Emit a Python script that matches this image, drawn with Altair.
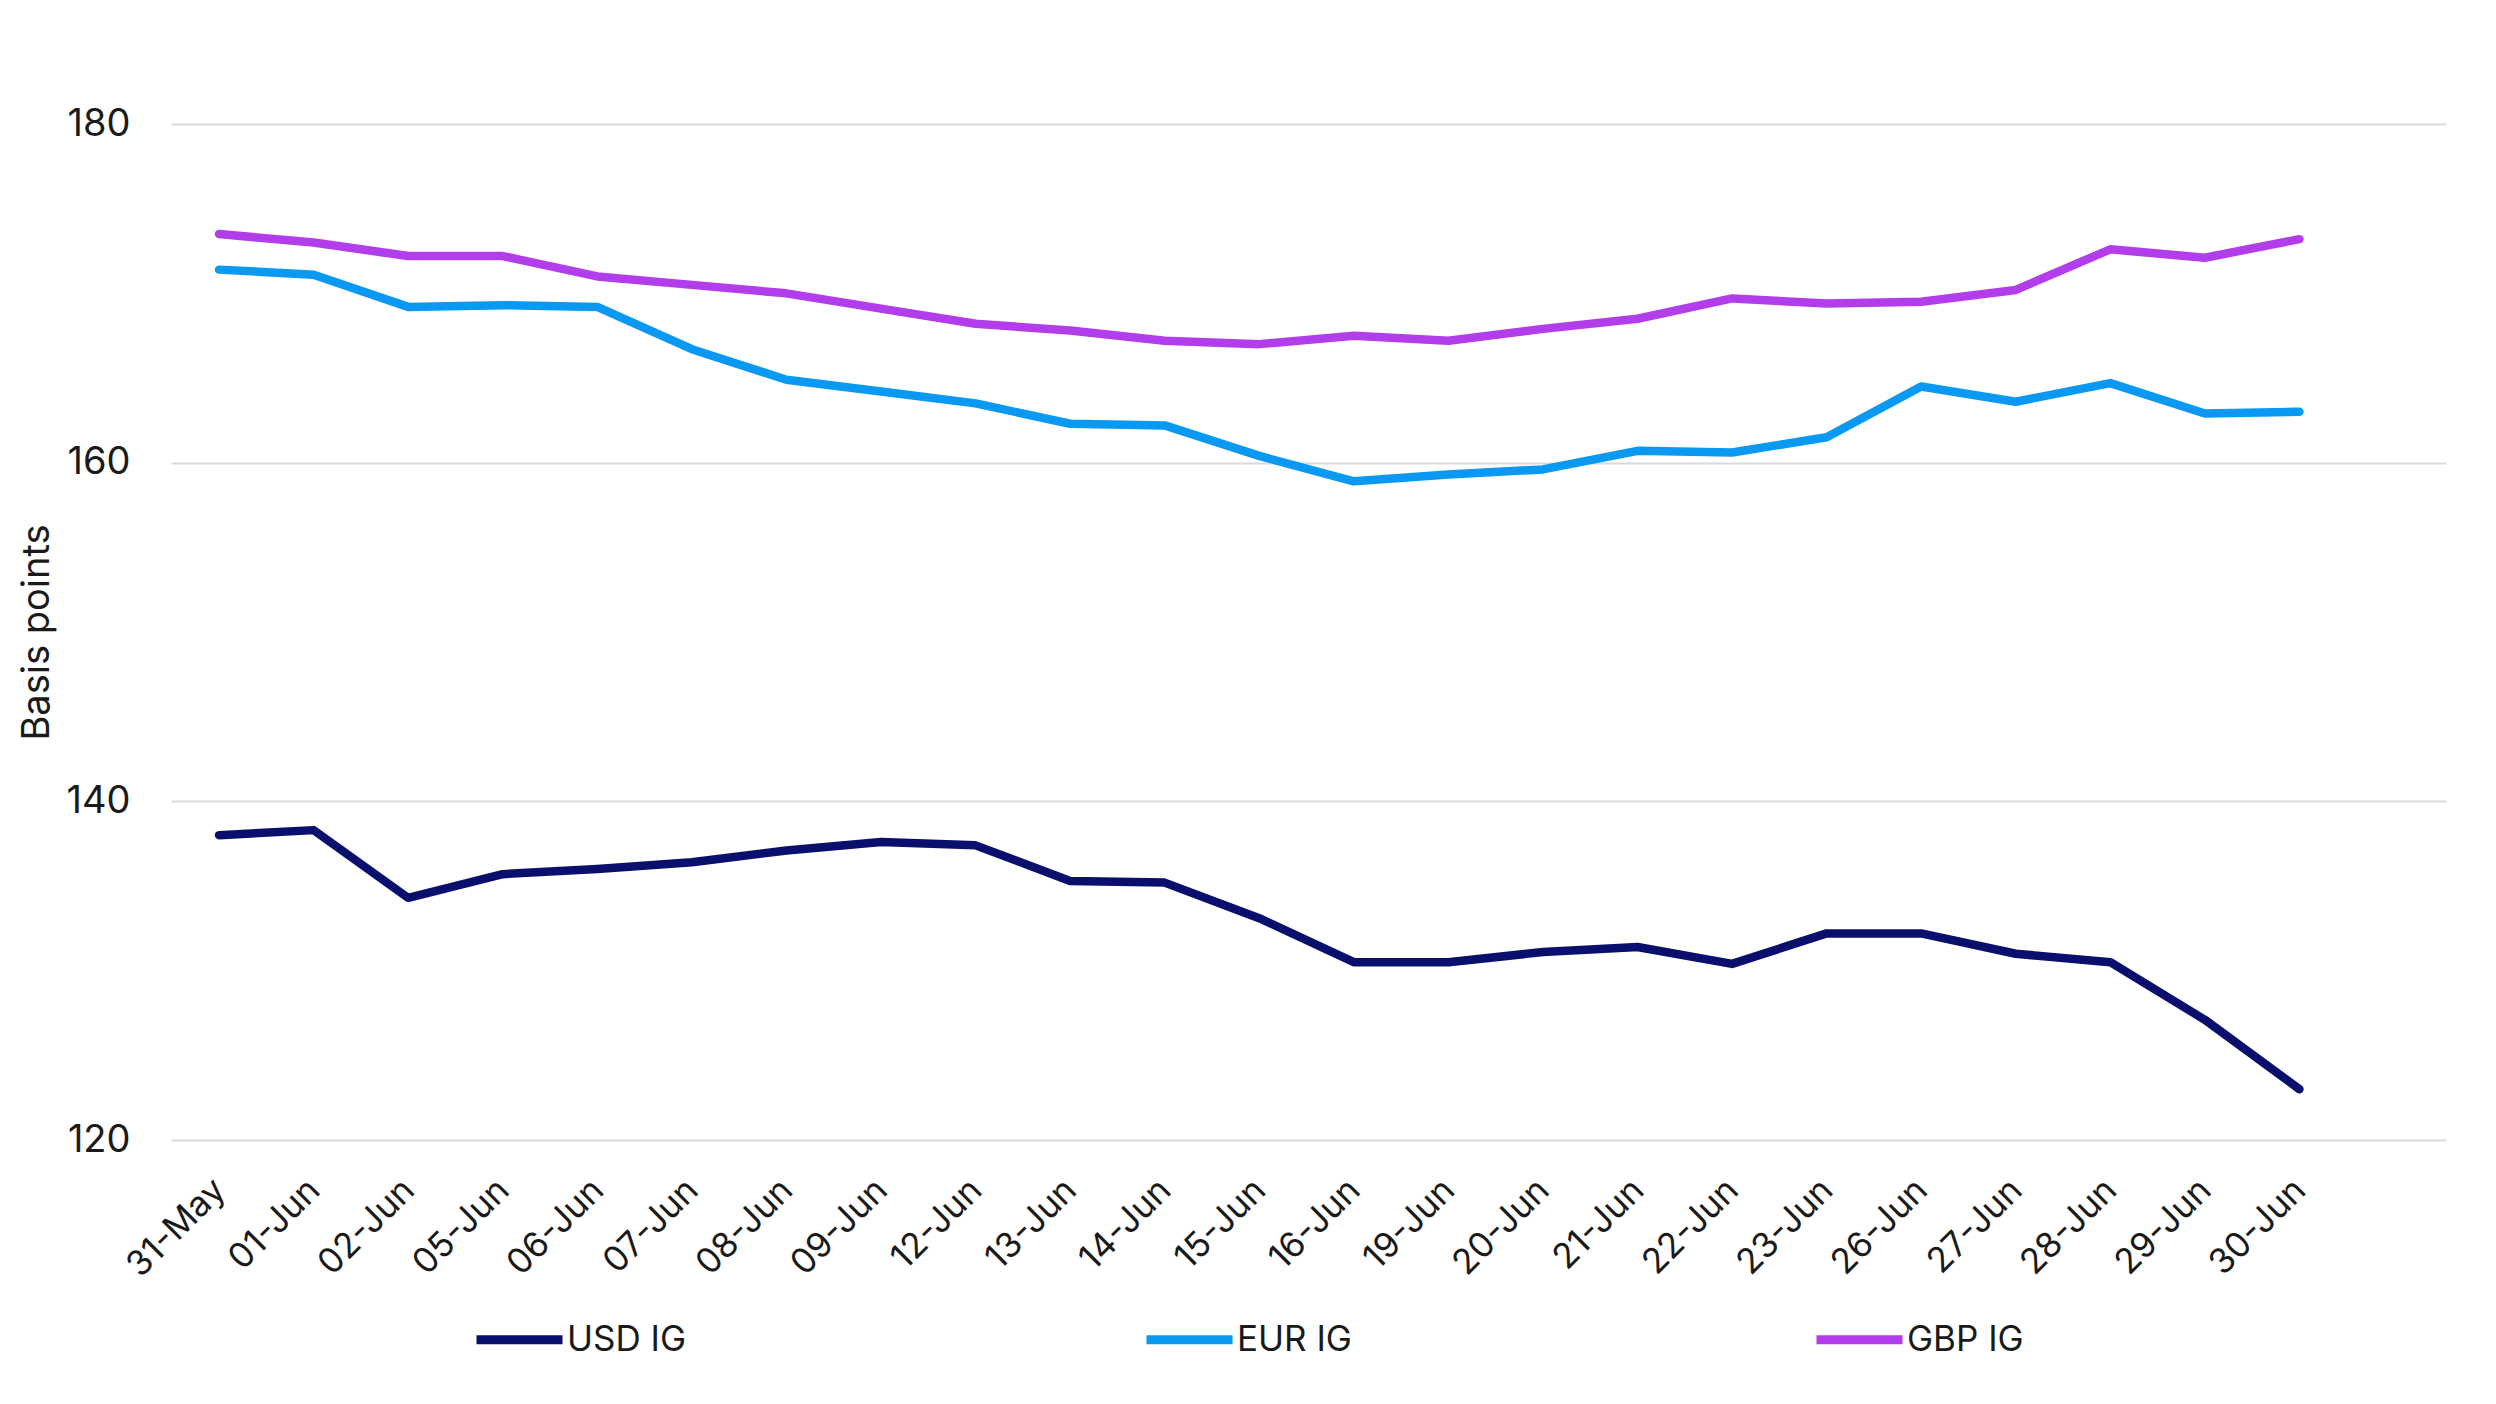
import altair as alt
import pandas as pd

dates = ["31-May", "01-Jun", "02-Jun", "05-Jun", "06-Jun", "07-Jun", "08-Jun", "09-Jun",
         "12-Jun", "13-Jun", "14-Jun", "15-Jun", "16-Jun", "19-Jun", "20-Jun", "21-Jun",
         "22-Jun", "23-Jun", "26-Jun", "27-Jun", "28-Jun", "29-Jun", "30-Jun"]

usd_ig = [138.0, 138.3, 134.3, 135.7, 136.0, 136.4, 137.1, 137.6, 137.4, 135.3, 135.2, 133.1,
          130.5, 130.5, 131.1, 131.4, 130.4, 132.2, 132.2, 131.0, 130.5, 127.1, 123.0]
eur_ig = [171.4, 171.1, 169.2, 169.3, 169.2, 166.7, 164.9, 164.2, 163.5, 162.3, 162.2, 160.4,
          158.9, 159.3, 159.6, 160.7, 160.6, 161.5, 164.5, 163.6, 164.7, 162.9, 163.0]
gbp_ig = [173.5, 173.0, 172.2, 172.2, 171.0, 170.5, 170.0, 169.1, 168.2, 167.8, 167.2, 167.0,
          167.5, 167.2, 167.9, 168.5, 169.7, 169.4, 169.5, 170.2, 172.6, 172.1, 173.2]

series = ["USD IG", "EUR IG", "GBP IG"]
colors = ["#0A0F6E", "#0A99F2", "#B23EEB"]
y_ticks = [120, 140, 160, 180]

rows = []
for name, vals in zip(series, [usd_ig, eur_ig, gbp_ig]):
    for i, (d, v) in enumerate(zip(dates, vals)):
        rows.append({"idx": i, "date": d, "series": name, "value": v})
df = pd.DataFrame(rows)

label_expr = "[" + ",".join("'" + d + "'" for d in dates) + "][datum.value]"

FONT = "Inter"
TXT = "#1a1a1a"

chart = alt.Chart(df).mark_line(strokeWidth=8.5, strokeCap="round", strokeJoin="round").encode(
    x=alt.X("idx:Q", title=None,
            scale=alt.Scale(domain=[-0.508, 23.55], nice=False, zero=False),
            axis=alt.Axis(values=list(range(len(dates))), labelExpr=label_expr,
                          labelAngle=-45, labelAlign="right", labelBaseline="middle",
                          labelPadding=44, ticks=False, domain=False, grid=False,
                          labelFlush=False, labelOverlap=False, labelBound=False,
                          labelFont=FONT, labelFontSize=35, labelColor=TXT)),
    y=alt.Y("value:Q", title="Basis points",
            scale=alt.Scale(domain=[120, 180], nice=False, zero=False),
            axis=alt.Axis(values=y_ticks, ticks=False, domain=False, grid=True,
                          gridColor="#d9d9d9", gridWidth=2,
                          labelFont=FONT, labelFontSize=38, labelColor=TXT, labelPadding=41,
                          titleFont=FONT, titleFontSize=38, titleFontWeight="normal",
                          titleColor=TXT, titlePadding=10)),
    color=alt.Color("series:N", sort=series,
                    scale=alt.Scale(domain=series, range=colors),
                    legend=alt.Legend(title=None, orient="none", direction="horizontal",
                                      legendX=301, legendY=1168,
                                      symbolType="stroke", symbolSize=7396,
                                      symbolStrokeWidth=9, labelOffset=0,
                                      columnPadding=441, gridAlign="all",
                                      labelFont=FONT, labelFontSize=35, labelColor=TXT)),
).properties(
    width=2275, height=1016,
    autosize=alt.AutoSizeParams(type="none"),
    padding={"left": 163, "top": 116, "right": 40, "bottom": 250},
).configure(background="white").configure_view(stroke=None)

chart.save("out.html", embed_options={"renderer": "svg", "actions": False})
